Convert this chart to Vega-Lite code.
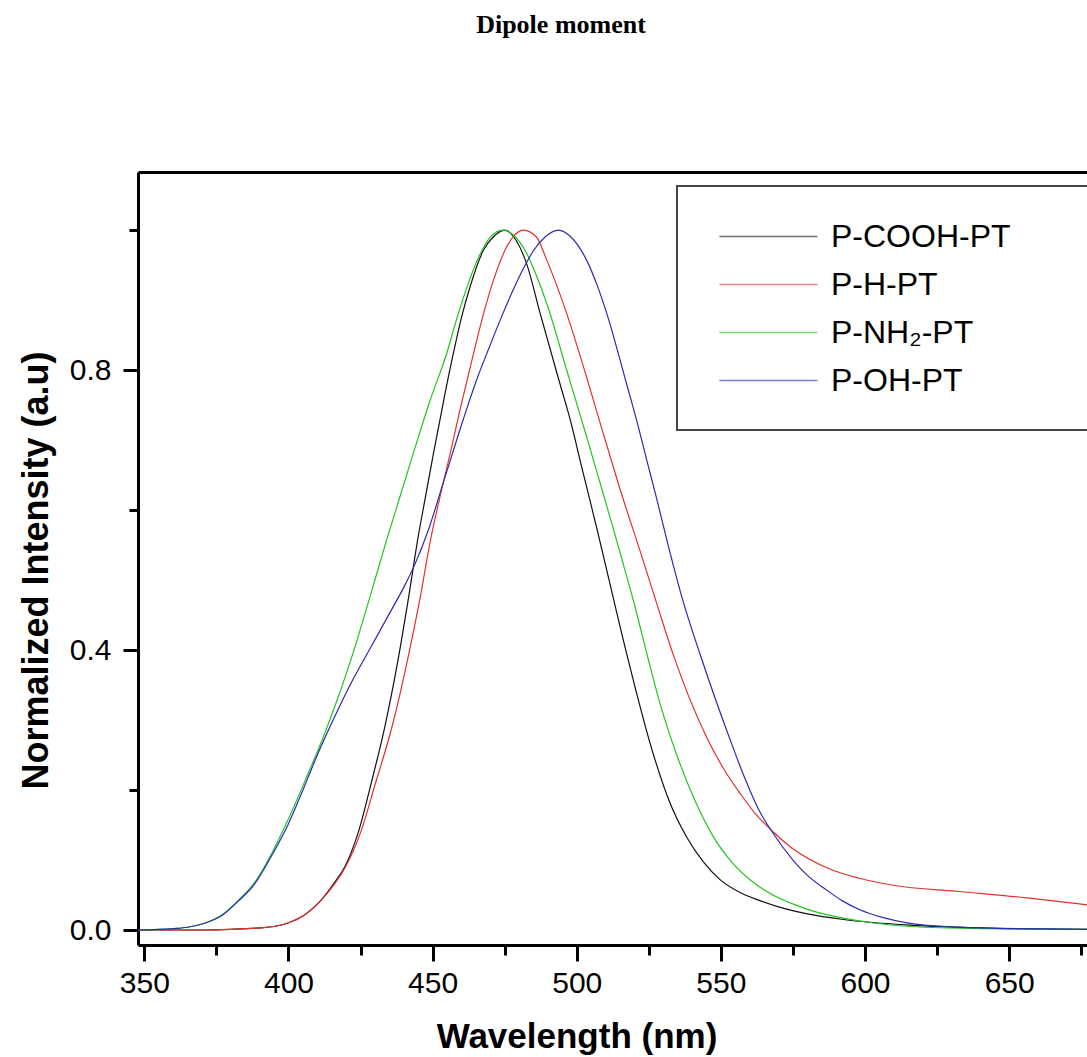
{
  "$schema": "https://vega.github.io/schema/vega-lite/v6.json",
  "width": 949,
  "height": 773,
  "autosize": {"type": "none"},
  "padding": {"left": 138, "top": 172, "right": 0, "bottom": 112},
  "background": "white",
  "title": {"text": "Dipole moment", "font": "Liberation Serif", "fontSize": 26, "fontWeight": "bold", "color": "black", "anchor": "middle", "frame": "group", "dx": -51.5, "offset": 113, "baseline": "alphabetic"},
  "datasets": {
    "raw": [
      {"s":"P-COOH-PT","w":348,"i":0},{"s":"P-COOH-PT","w":370,"i":0},{"s":"P-COOH-PT","w":380,"i":0.001},{"s":"P-COOH-PT","w":390,"i":0.003},{"s":"P-COOH-PT","w":395,"i":0.005},{"s":"P-COOH-PT","w":399.8,"i":0.01},{"s":"P-COOH-PT","w":405,"i":0.02},{"s":"P-COOH-PT","w":411.4,"i":0.043},{"s":"P-COOH-PT","w":416,"i":0.068},{"s":"P-COOH-PT","w":419.5,"i":0.09},{"s":"P-COOH-PT","w":424.1,"i":0.138},{"s":"P-COOH-PT","w":428.7,"i":0.21},{"s":"P-COOH-PT","w":433.4,"i":0.29},{"s":"P-COOH-PT","w":438,"i":0.386},{"s":"P-COOH-PT","w":441.5,"i":0.471},{"s":"P-COOH-PT","w":445,"i":0.562},{"s":"P-COOH-PT","w":447.3,"i":0.614},{"s":"P-COOH-PT","w":450.3,"i":0.681},{"s":"P-COOH-PT","w":454,"i":0.76},{"s":"P-COOH-PT","w":457.2,"i":0.824},{"s":"P-COOH-PT","w":460,"i":0.875},{"s":"P-COOH-PT","w":463,"i":0.919},{"s":"P-COOH-PT","w":467.6,"i":0.971},{"s":"P-COOH-PT","w":471,"i":0.99},{"s":"P-COOH-PT","w":475,"i":1.0},{"s":"P-COOH-PT","w":479,"i":0.985},{"s":"P-COOH-PT","w":482.6,"i":0.952},{"s":"P-COOH-PT","w":487.3,"i":0.881},{"s":"P-COOH-PT","w":494.2,"i":0.78},{"s":"P-COOH-PT","w":498,"i":0.725},{"s":"P-COOH-PT","w":501.5,"i":0.665},{"s":"P-COOH-PT","w":506.9,"i":0.575},{"s":"P-COOH-PT","w":509.5,"i":0.53},{"s":"P-COOH-PT","w":517.3,"i":0.395},{"s":"P-COOH-PT","w":526.5,"i":0.252},{"s":"P-COOH-PT","w":532,"i":0.185},{"s":"P-COOH-PT","w":538.1,"i":0.133},{"s":"P-COOH-PT","w":544,"i":0.097},{"s":"P-COOH-PT","w":549.7,"i":0.072},{"s":"P-COOH-PT","w":556,"i":0.055},{"s":"P-COOH-PT","w":563.5,"i":0.042},{"s":"P-COOH-PT","w":570,"i":0.033},{"s":"P-COOH-PT","w":580,"i":0.023},{"s":"P-COOH-PT","w":592.5,"i":0.015},{"s":"P-COOH-PT","w":615.6,"i":0.007},{"s":"P-COOH-PT","w":640,"i":0.003},{"s":"P-COOH-PT","w":677,"i":0.001},
      {"s":"P-H-PT","w":348,"i":0},{"s":"P-H-PT","w":370,"i":0},{"s":"P-H-PT","w":380,"i":0.001},{"s":"P-H-PT","w":390,"i":0.003},{"s":"P-H-PT","w":395,"i":0.005},{"s":"P-H-PT","w":399.8,"i":0.01},{"s":"P-H-PT","w":405,"i":0.02},{"s":"P-H-PT","w":411.4,"i":0.043},{"s":"P-H-PT","w":416,"i":0.066},{"s":"P-H-PT","w":419.5,"i":0.088},{"s":"P-H-PT","w":424.9,"i":0.138},{"s":"P-H-PT","w":430.2,"i":0.21},{"s":"P-H-PT","w":435.9,"i":0.29},{"s":"P-H-PT","w":441.3,"i":0.386},{"s":"P-H-PT","w":445.5,"i":0.471},{"s":"P-H-PT","w":449.4,"i":0.56},{"s":"P-H-PT","w":451.9,"i":0.607},{"s":"P-H-PT","w":456.1,"i":0.681},{"s":"P-H-PT","w":460,"i":0.752},{"s":"P-H-PT","w":464.1,"i":0.822},{"s":"P-H-PT","w":467.5,"i":0.878},{"s":"P-H-PT","w":471,"i":0.927},{"s":"P-H-PT","w":475.7,"i":0.976},{"s":"P-H-PT","w":478.5,"i":0.993},{"s":"P-H-PT","w":481.5,"i":1.0},{"s":"P-H-PT","w":486,"i":0.99},{"s":"P-H-PT","w":489.6,"i":0.957},{"s":"P-H-PT","w":496.5,"i":0.881},{"s":"P-H-PT","w":503.4,"i":0.79},{"s":"P-H-PT","w":509,"i":0.712},{"s":"P-H-PT","w":515,"i":0.63},{"s":"P-H-PT","w":523.1,"i":0.527},{"s":"P-H-PT","w":528,"i":0.463},{"s":"P-H-PT","w":533.5,"i":0.393},{"s":"P-H-PT","w":539,"i":0.332},{"s":"P-H-PT","w":545.1,"i":0.275},{"s":"P-H-PT","w":551,"i":0.23},{"s":"P-H-PT","w":556.7,"i":0.195},{"s":"P-H-PT","w":562,"i":0.166},{"s":"P-H-PT","w":568.2,"i":0.14},{"s":"P-H-PT","w":575,"i":0.116},{"s":"P-H-PT","w":586.7,"i":0.089},{"s":"P-H-PT","w":598,"i":0.074},{"s":"P-H-PT","w":609.8,"i":0.064},{"s":"P-H-PT","w":632.9,"i":0.055},{"s":"P-H-PT","w":656,"i":0.046},{"s":"P-H-PT","w":677,"i":0.036},
      {"s":"P-NH\u2082-PT","w":348,"i":0},{"s":"P-NH\u2082-PT","w":360,"i":0.002},{"s":"P-NH\u2082-PT","w":365,"i":0.004},{"s":"P-NH\u2082-PT","w":371,"i":0.01},{"s":"P-NH\u2082-PT","w":377,"i":0.022},{"s":"P-NH\u2082-PT","w":382.5,"i":0.042},{"s":"P-NH\u2082-PT","w":388.3,"i":0.068},{"s":"P-NH\u2082-PT","w":394,"i":0.108},{"s":"P-NH\u2082-PT","w":399.8,"i":0.157},{"s":"P-NH\u2082-PT","w":405.6,"i":0.212},{"s":"P-NH\u2082-PT","w":412.6,"i":0.281},{"s":"P-NH\u2082-PT","w":417,"i":0.33},{"s":"P-NH\u2082-PT","w":421.8,"i":0.388},{"s":"P-NH\u2082-PT","w":428.7,"i":0.482},{"s":"P-NH\u2082-PT","w":434.1,"i":0.558},{"s":"P-NH\u2082-PT","w":438,"i":0.61},{"s":"P-NH\u2082-PT","w":443.3,"i":0.681},{"s":"P-NH\u2082-PT","w":449,"i":0.755},{"s":"P-NH\u2082-PT","w":454.9,"i":0.824},{"s":"P-NH\u2082-PT","w":458.5,"i":0.875},{"s":"P-NH\u2082-PT","w":461.8,"i":0.917},{"s":"P-NH\u2082-PT","w":466.4,"i":0.965},{"s":"P-NH\u2082-PT","w":470,"i":0.99},{"s":"P-NH\u2082-PT","w":474.4,"i":1.0},{"s":"P-NH\u2082-PT","w":478,"i":0.993},{"s":"P-NH\u2082-PT","w":482.6,"i":0.967},{"s":"P-NH\u2082-PT","w":486,"i":0.935},{"s":"P-NH\u2082-PT","w":489.6,"i":0.895},{"s":"P-NH\u2082-PT","w":496.5,"i":0.8},{"s":"P-NH\u2082-PT","w":503.4,"i":0.705},{"s":"P-NH\u2082-PT","w":508,"i":0.64},{"s":"P-NH\u2082-PT","w":512.7,"i":0.573},{"s":"P-NH\u2082-PT","w":515.3,"i":0.535},{"s":"P-NH\u2082-PT","w":520,"i":0.465},{"s":"P-NH\u2082-PT","w":524.3,"i":0.395},{"s":"P-NH\u2082-PT","w":529,"i":0.322},{"s":"P-NH\u2082-PT","w":534.7,"i":0.25},{"s":"P-NH\u2082-PT","w":541,"i":0.185},{"s":"P-NH\u2082-PT","w":547.4,"i":0.133},{"s":"P-NH\u2082-PT","w":554,"i":0.096},{"s":"P-NH\u2082-PT","w":561,"i":0.069},{"s":"P-NH\u2082-PT","w":568,"i":0.05},{"s":"P-NH\u2082-PT","w":575.1,"i":0.037},{"s":"P-NH\u2082-PT","w":582,"i":0.027},{"s":"P-NH\u2082-PT","w":592.5,"i":0.017},{"s":"P-NH\u2082-PT","w":603,"i":0.01},{"s":"P-NH\u2082-PT","w":615.6,"i":0.005},{"s":"P-NH\u2082-PT","w":640,"i":0.002},{"s":"P-NH\u2082-PT","w":677,"i":0.001},
      {"s":"P-OH-PT","w":348,"i":0},{"s":"P-OH-PT","w":360,"i":0.002},{"s":"P-OH-PT","w":365,"i":0.004},{"s":"P-OH-PT","w":371,"i":0.0096},{"s":"P-OH-PT","w":377,"i":0.021},{"s":"P-OH-PT","w":382.5,"i":0.041},{"s":"P-OH-PT","w":388.3,"i":0.066},{"s":"P-OH-PT","w":394,"i":0.105},{"s":"P-OH-PT","w":399.8,"i":0.15},{"s":"P-OH-PT","w":405,"i":0.2},{"s":"P-OH-PT","w":410,"i":0.25},{"s":"P-OH-PT","w":417.2,"i":0.315},{"s":"P-OH-PT","w":422,"i":0.355},{"s":"P-OH-PT","w":428.7,"i":0.405},{"s":"P-OH-PT","w":435,"i":0.452},{"s":"P-OH-PT","w":440.3,"i":0.492},{"s":"P-OH-PT","w":443.8,"i":0.522},{"s":"P-OH-PT","w":448.4,"i":0.57},{"s":"P-OH-PT","w":454,"i":0.643},{"s":"P-OH-PT","w":460.6,"i":0.729},{"s":"P-OH-PT","w":465,"i":0.783},{"s":"P-OH-PT","w":469.9,"i":0.835},{"s":"P-OH-PT","w":474,"i":0.877},{"s":"P-OH-PT","w":478,"i":0.915},{"s":"P-OH-PT","w":481.5,"i":0.945},{"s":"P-OH-PT","w":484.9,"i":0.97},{"s":"P-OH-PT","w":489,"i":0.99},{"s":"P-OH-PT","w":493.6,"i":1.0},{"s":"P-OH-PT","w":498,"i":0.99},{"s":"P-OH-PT","w":503.4,"i":0.957},{"s":"P-OH-PT","w":507,"i":0.922},{"s":"P-OH-PT","w":510.4,"i":0.881},{"s":"P-OH-PT","w":517.3,"i":0.78},{"s":"P-OH-PT","w":521.3,"i":0.72},{"s":"P-OH-PT","w":524.3,"i":0.671},{"s":"P-OH-PT","w":527.5,"i":0.62},{"s":"P-OH-PT","w":532,"i":0.545},{"s":"P-OH-PT","w":537,"i":0.468},{"s":"P-OH-PT","w":542.7,"i":0.395},{"s":"P-OH-PT","w":548,"i":0.331},{"s":"P-OH-PT","w":553.2,"i":0.272},{"s":"P-OH-PT","w":558,"i":0.22},{"s":"P-OH-PT","w":563.5,"i":0.169},{"s":"P-OH-PT","w":567,"i":0.145},{"s":"P-OH-PT","w":575,"i":0.1},{"s":"P-OH-PT","w":580,"i":0.078},{"s":"P-OH-PT","w":586.7,"i":0.057},{"s":"P-OH-PT","w":592,"i":0.042},{"s":"P-OH-PT","w":598.2,"i":0.029},{"s":"P-OH-PT","w":606,"i":0.018},{"s":"P-OH-PT","w":615.6,"i":0.0095},{"s":"P-OH-PT","w":632.9,"i":0.004},{"s":"P-OH-PT","w":650,"i":0.002},{"s":"P-OH-PT","w":677,"i":0.001}
    ]
  },
  "data": {"name": "raw"},
  "layer": [
    {
      "mark": {"type": "line", "interpolate": "monotone", "strokeWidth": 1.2, "clip": true},
      "encoding": {
        "x": {"field": "w", "type": "quantitative", "scale": {"domain": [347.8, 677], "nice": false, "zero": false},
          "axis": {"values": [350, 400, 450, 500, 550, 600, 650], "grid": false, "tickSize": 16, "tickWidth": 3, "tickColor": "black", "domainWidth": 3, "domainColor": "black", "labelFont": "Liberation Sans", "labelFontSize": 30, "labelColor": "black", "labelPadding": 7, "labelFlush": false, "labelOverlap": false,
            "title": "Wavelength (nm)", "titleFont": "Liberation Sans", "titleFontSize": 35, "titleFontWeight": "bold", "titleColor": "black", "titleX": 438.5, "titleY": 102, "titleBaseline": "alphabetic", "titleAlign": "center"}},
        "y": {"field": "i", "type": "quantitative", "scale": {"domain": [-0.0214, 1.0829], "nice": false, "zero": false},
          "axis": {"values": [0, 0.4, 0.8], "format": ".1f", "grid": false, "tickSize": 15, "tickWidth": 3, "tickColor": "black", "domainWidth": 3, "domainColor": "black", "labelFont": "Liberation Sans", "labelFontSize": 30, "labelColor": "black", "labelPadding": 12, "labelFlush": false, "labelOverlap": false,
            "title": "Normalized Intensity (a.u)", "titleFont": "Liberation Sans", "titleFontSize": 36, "titleFontWeight": "bold", "titleColor": "black", "titleX": -91, "titleY": 398, "titleAngle": 270, "titleBaseline": "alphabetic", "titleAlign": "center"}},
        "color": {"field": "s", "type": "nominal",
          "scale": {"domain": ["P-COOH-PT", "P-H-PT", "P-NH\u2082-PT", "P-OH-PT"], "range": ["#111111", "#e3302a", "#22c422", "#2b2bb0"]},
          "legend": {"title": ".", "titleOrient": "right", "titleOpacity": 0, "titleFontSize": 2, "titlePadding": 62,
            "orient": "none", "legendX": 539, "legendY": 14, "symbolType": "M-0.5,0H5.5", "symbolSize": 1069, "symbolStrokeWidth": 1.5, "symbolOpacity": 0.6, "labelFont": "Liberation Sans", "labelFontSize": 32, "labelColor": "black", "labelOffset": 86, "labelLimit": 0, "rowPadding": 14, "padding": 33, "strokeColor": "#444444", "fillColor": "white"}}
      }
    },
    {
      "mark": {"type": "point", "opacity": 0},
      "encoding": {
        "x": {"field": "w", "type": "quantitative", "axis": {"orient": "bottom", "values": [375, 425, 475, 525, 575, 625, 675], "labels": false, "title": null, "domain": false, "grid": false, "tickSize": 10, "tickWidth": 3, "tickColor": "black"}},
        "y": {"field": "i", "type": "quantitative", "axis": {"orient": "left", "values": [0.2, 0.6, 1.0], "labels": false, "title": null, "domain": false, "grid": false, "tickSize": 9, "tickWidth": 3, "tickColor": "black"}}
      }
    },
    {
      "mark": {"type": "point", "opacity": 0},
      "encoding": {
        "x": {"field": "w", "type": "quantitative", "axis": {"orient": "top", "labels": false, "ticks": false, "title": null, "domain": true, "domainWidth": 3, "domainColor": "black", "grid": false}},
        "y": {"field": "i", "type": "quantitative", "axis": null}
      }
    }
  ],
  "resolve": {"axis": {"x": "independent", "y": "independent"}},
  "config": {"view": {"stroke": null}, "legend": {"strokeWidth": 2}}
}
